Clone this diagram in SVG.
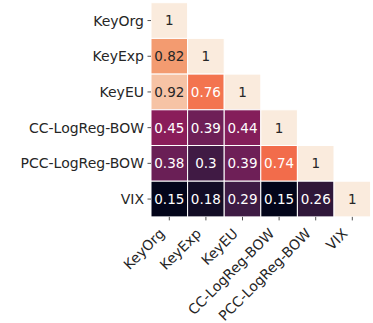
<svg xmlns="http://www.w3.org/2000/svg" width="373" height="323" viewBox="0 0 373 323">
<style>
.c{stroke:#fff;stroke-width:1}
.v{font-family:"DejaVu Sans",sans-serif;font-size:13.5px;text-anchor:middle}
.d{fill:#262626}
.l{fill:#ffffff}
.lab{font-family:"DejaVu Sans",sans-serif;font-size:14px;fill:#262626}
.tk{stroke:#262626;stroke-width:0.8}
</style>
<rect width="373" height="323" fill="#fff"/>
<g id="cells">
<rect class="c" x="151" y="2.7" width="36.6" height="35.7" fill="#FAEBDD"/>
<rect class="c" x="151" y="38.4" width="36.6" height="35.7" fill="#F39B70"/>
<rect class="c" x="187.6" y="38.4" width="36.6" height="35.7" fill="#FAEBDD"/>
<rect class="c" x="151" y="74.1" width="36.6" height="35.7" fill="#F6C3A5"/>
<rect class="c" x="187.6" y="74.1" width="36.6" height="35.7" fill="#F3744F"/>
<rect class="c" x="224.2" y="74.1" width="36.6" height="35.7" fill="#FAEBDD"/>
<rect class="c" x="151" y="109.8" width="36.6" height="35.7" fill="#8A1D5A"/>
<rect class="c" x="187.6" y="109.8" width="36.6" height="35.7" fill="#6E1F57"/>
<rect class="c" x="224.2" y="109.8" width="36.6" height="35.7" fill="#841E5A"/>
<rect class="c" x="260.8" y="109.8" width="36.6" height="35.7" fill="#FAEBDD"/>
<rect class="c" x="151" y="145.5" width="36.6" height="35.7" fill="#6A1F56"/>
<rect class="c" x="187.6" y="145.5" width="36.6" height="35.7" fill="#401A44"/>
<rect class="c" x="224.2" y="145.5" width="36.6" height="35.7" fill="#6E1F57"/>
<rect class="c" x="260.8" y="145.5" width="36.6" height="35.7" fill="#F26C4B"/>
<rect class="c" x="297.4" y="145.5" width="36.6" height="35.7" fill="#FAEBDD"/>
<rect class="c" x="151" y="181.2" width="36.6" height="35.7" fill="#03051A"/>
<rect class="c" x="187.6" y="181.2" width="36.6" height="35.7" fill="#120C25"/>
<rect class="c" x="224.2" y="181.2" width="36.6" height="35.7" fill="#3E1B44"/>
<rect class="c" x="260.8" y="181.2" width="36.6" height="35.7" fill="#03051A"/>
<rect class="c" x="297.4" y="181.2" width="36.6" height="35.7" fill="#2F1739"/>
<rect class="c" x="334" y="181.2" width="36.6" height="35.7" fill="#FAEBDD"/>
</g>
<g id="values">
<text class="v d" x="169.3" y="25.4">1</text>
<text class="v d" x="169.3" y="61.1">0.82</text>
<text class="v d" x="205.9" y="61.1">1</text>
<text class="v d" x="169.3" y="96.8">0.92</text>
<text class="v l" x="205.9" y="96.8">0.76</text>
<text class="v d" x="242.5" y="96.8">1</text>
<text class="v l" x="169.3" y="132.5">0.45</text>
<text class="v l" x="205.9" y="132.5">0.39</text>
<text class="v l" x="242.5" y="132.5">0.44</text>
<text class="v d" x="279.1" y="132.5">1</text>
<text class="v l" x="169.3" y="168.2">0.38</text>
<text class="v l" x="205.9" y="168.2">0.3</text>
<text class="v l" x="242.5" y="168.2">0.39</text>
<text class="v l" x="279.1" y="168.2">0.74</text>
<text class="v d" x="315.7" y="168.2">1</text>
<text class="v l" x="169.3" y="203.9">0.15</text>
<text class="v l" x="205.9" y="203.9">0.18</text>
<text class="v l" x="242.5" y="203.9">0.29</text>
<text class="v l" x="279.1" y="203.9">0.15</text>
<text class="v l" x="315.7" y="203.9">0.26</text>
<text class="v d" x="352.3" y="203.9">1</text>
</g>
<g id="ticks">
<line class="tk" x1="147.5" y1="20.55" x2="151" y2="20.55"/>
<line class="tk" x1="147.5" y1="56.25" x2="151" y2="56.25"/>
<line class="tk" x1="147.5" y1="91.95" x2="151" y2="91.95"/>
<line class="tk" x1="147.5" y1="127.65" x2="151" y2="127.65"/>
<line class="tk" x1="147.5" y1="163.35" x2="151" y2="163.35"/>
<line class="tk" x1="147.5" y1="199.05" x2="151" y2="199.05"/>
<line class="tk" x1="169.3" y1="216.9" x2="169.3" y2="220.4"/>
<line class="tk" x1="205.9" y1="216.9" x2="205.9" y2="220.4"/>
<line class="tk" x1="242.5" y1="216.9" x2="242.5" y2="220.4"/>
<line class="tk" x1="279.1" y1="216.9" x2="279.1" y2="220.4"/>
<line class="tk" x1="315.7" y1="216.9" x2="315.7" y2="220.4"/>
<line class="tk" x1="352.3" y1="216.9" x2="352.3" y2="220.4"/>
</g>
<g id="ylabels" text-anchor="end">
<text class="lab" x="144" y="25.6">KeyOrg</text>
<text class="lab" x="144" y="61.3">KeyExp</text>
<text class="lab" x="144" y="97">KeyEU</text>
<text class="lab" x="144" y="132.7">CC-LogReg-BOW</text>
<text class="lab" x="144" y="168.4">PCC-LogReg-BOW</text>
<text class="lab" x="144" y="204.1">VIX</text>
</g>
<g id="xlabels" text-anchor="end">
<text class="lab" transform="translate(165.5,234.5) rotate(-45)">KeyOrg</text>
<text class="lab" transform="translate(202.1,234.5) rotate(-45)">KeyExp</text>
<text class="lab" transform="translate(238.7,234.5) rotate(-45)">KeyEU</text>
<text class="lab" transform="translate(275.3,234.5) rotate(-45)">CC-LogReg-BOW</text>
<text class="lab" transform="translate(311.9,234.5) rotate(-45)">PCC-LogReg-BOW</text>
<text class="lab" transform="translate(348.5,234.5) rotate(-45)">VIX</text>
</g>
</svg>
